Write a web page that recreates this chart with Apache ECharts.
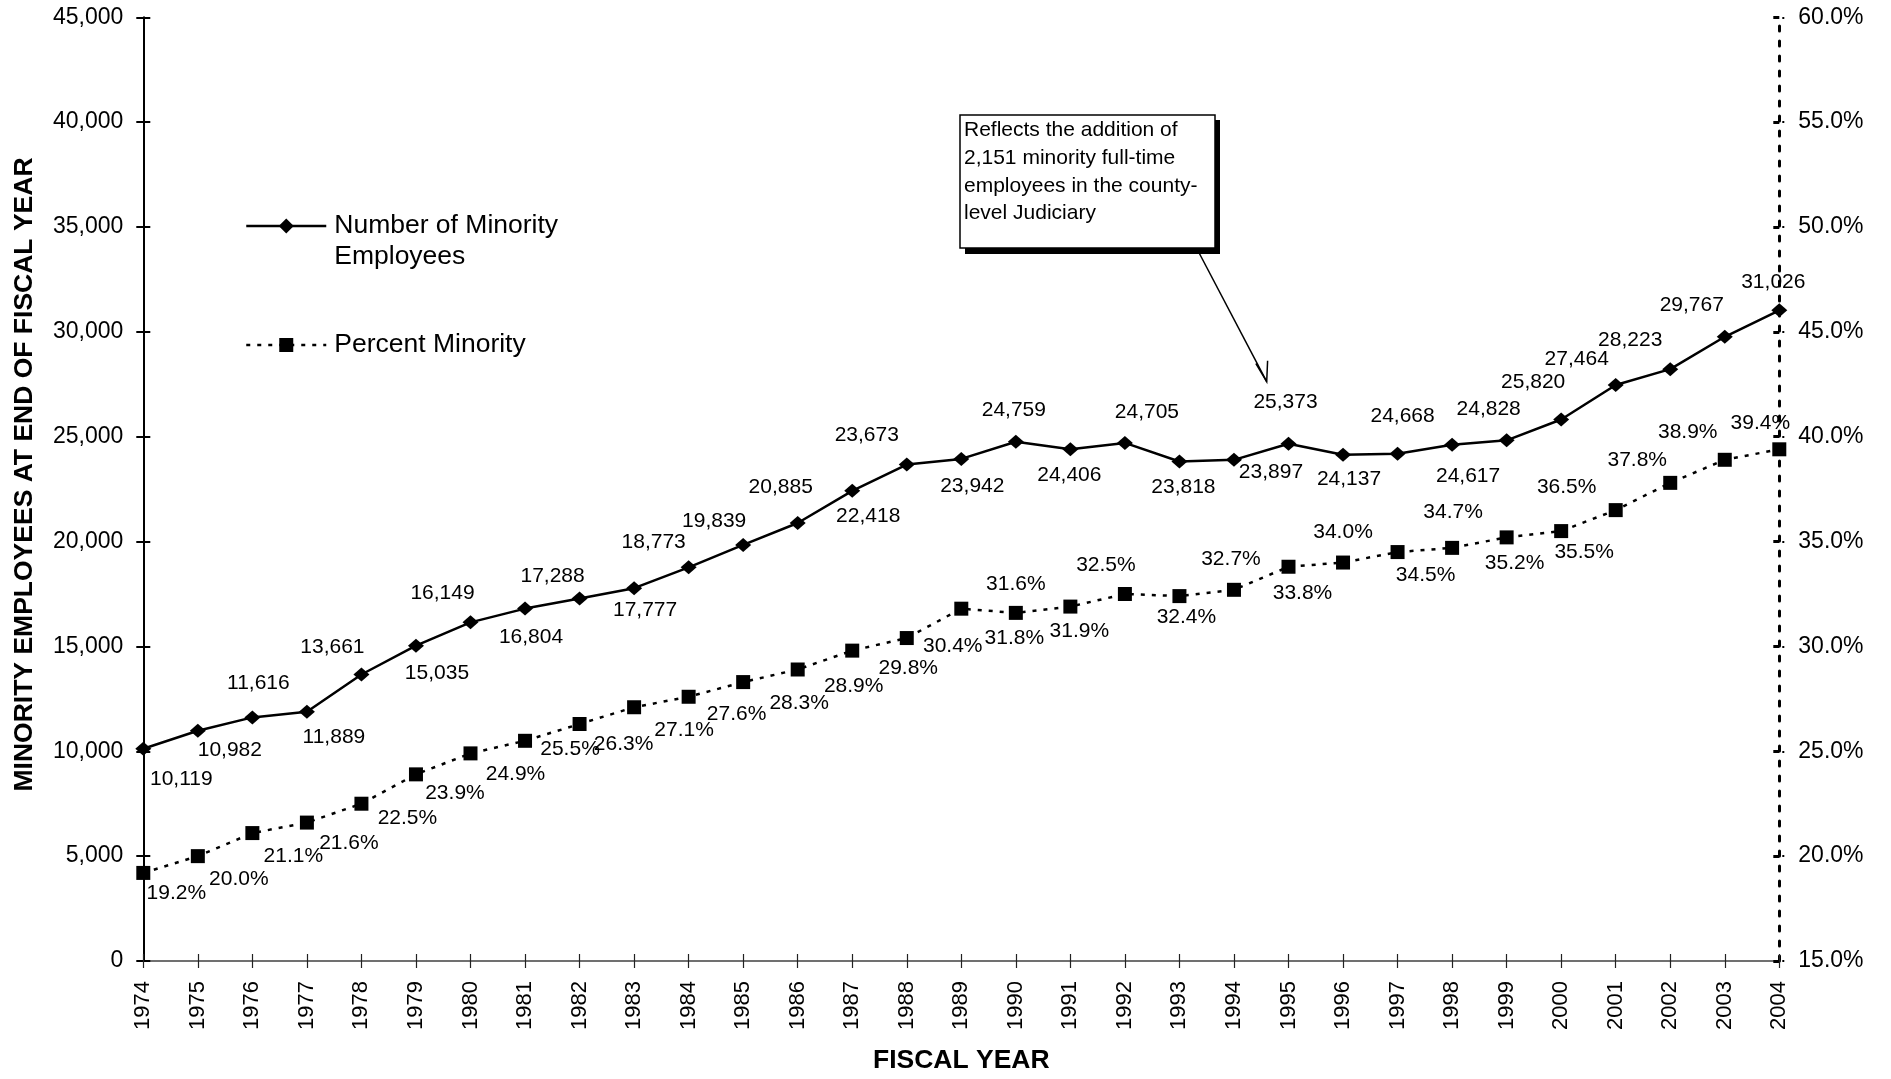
<!DOCTYPE html>
<html>
<head>
<meta charset="utf-8">
<script src="https://cdn.jsdelivr.net/npm/echarts@6/dist/echarts.min.js"></script>
<style>
html,body{margin:0;padding:0;background:#fff;}
#chart{width:1891px;height:1079px;}
</style>
</head>
<body>
<div id="chart"></div>
<script>
// ---------------- data ----------------
const years = ['1974','1975','1976','1977','1978','1979','1980','1981','1982','1983','1984','1985','1986','1987','1988','1989','1990','1991','1992','1993','1994','1995','1996','1997','1998','1999','2000','2001','2002','2003','2004'];

const employees = [10119,10982,11616,11889,13661,15035,16149,16804,17288,17777,18773,19839,20885,22418,23673,23942,24759,24406,24705,23818,23897,24668,24137,24190,24617,24828,25820,27464,28223,29767,31026];

const employeeLabels = ['10,119','10,982','11,616','11,889','13,661','15,035','16,149','16,804','17,288','17,777','18,773','19,839','20,885','22,418','23,673','23,942','24,759','24,406','24,705','23,818','23,897','25,373','24,137','24,668','24,617','24,828','25,820','27,464','28,223','29,767','31,026'];

const percentMinority = [19.2,20.0,21.1,21.6,22.5,23.9,24.9,25.5,26.3,27.1,27.6,28.3,28.9,29.8,30.4,31.8,31.6,31.9,32.5,32.4,32.7,33.8,34.0,34.5,34.7,35.2,35.5,36.5,37.8,38.9,39.4];

const leftAxisTicks = {min: 0, max: 45000, interval: 5000};
const rightAxisTicks = {min: 15, max: 60, interval: 5};

const seriesNames = ['Number of Minority Employees', 'Percent Minority'];
const legendTexts = ['Number of Minority\nEmployees', 'Percent Minority'];
const annotationText = 'Reflects the addition of\n2,151 minority full-time\nemployees in the county-\nlevel Judiciary';
const xAxisTitle = 'FISCAL YEAR';
const yAxisTitle = 'MINORITY EMPLOYEES AT END OF FISCAL YEAR';

// ---------------- label placement (layout only) ----------------
const employeeLabelOffsets = [[38,30],[32,20],[6,-34],[27,26],[-29,-27],[21,28],[-28,-29],[6,29],[-27,-22],[11,22],[-35,-25],[-29,-24],[-17,-36],[16,25],[-40,-29],[11,27],[-2,-32],[-1,26],[22,-31],[4,26],[37,12],[-3,-41],[6,24],[5,-38],[16,31],[-18,-31],[-28,-37],[-39,-26],[-40,-29],[-33,-32],[-6,-28]];
const percentLabelOffsets = [[33,20],[41,23],[41,23],[42,21],[46,14],[39,19],[45,21],[45,8],[44,20],[50,23],[48,17],[56,21],[56,17],[56,18],[46,8],[53,30],[0,-29],[9,25],[-19,-29],[7,21],[-3,-31],[14,26],[0,-30],[28,23],[1,-36],[8,26],[23,21],[-49,-23],[-33,-23],[-37,-28],[-19,-26]];

// ---------------- chart ----------------
const FONT = "'Liberation Sans', Arial, sans-serif";
const chart = echarts.init(document.getElementById('chart'), null, {renderer: 'canvas'});

const grid = {left: 143.3, right: 111.7, top: 17.3, bottom: 117.3, containLabel: false};

const option = {
  animation: false,
  backgroundColor: '#fff',
  textStyle: {fontFamily: FONT, color: '#000'},
  grid: grid,
  legend: [
    {
      data: [seriesNames[0]],
      left: 245, top: 179.5, padding: 0,
      itemWidth: 80, itemHeight: 18.75,
      selectedMode: false,
      // leading empty line keeps the first text line level with the icon
      formatter: () => '\n' + legendTexts[0],
      lineStyle: {width: 2.5},
      textStyle: {fontSize: 26.5, lineHeight: 31, color: '#000', fontFamily: FONT, padding: [0, 0, 0, 3]}
    },
    {
      data: [seriesNames[1]],
      left: 245, top: 329.5, padding: 0,
      itemWidth: 80, itemHeight: 17.5,
      selectedMode: false,
      formatter: () => legendTexts[1],
      lineStyle: {width: 2.5},
      textStyle: {fontSize: 26.5, lineHeight: 31, color: '#000', fontFamily: FONT, padding: [0, 0, 0, 3]}
    }
  ],
  xAxis: [
    {
      type: 'category', data: years, boundaryGap: false, position: 'bottom',
      name: xAxisTitle, nameLocation: 'middle', nameGap: 86,
      nameTextStyle: {fontSize: 26.5, fontWeight: 'bold', color: '#000', fontFamily: FONT},
      axisLine: {show: true, lineStyle: {color: '#707070', width: 2}},
      axisTick: {show: true, length: 7, lineStyle: {color: '#222', width: 1.2}},
      axisLabel: {rotate: 90, margin: 20, fontSize: 22, color: '#000', interval: 0, fontFamily: FONT},
      splitLine: {show: false}
    },
    {
      type: 'category', data: years, boundaryGap: false, position: 'bottom',
      axisLine: {show: false},
      axisTick: {show: true, inside: true, length: 7, lineStyle: {color: '#222', width: 1.2}},
      axisLabel: {show: false},
      splitLine: {show: false}
    }
  ],
  yAxis: [
    {
      type: 'value', position: 'left',
      min: leftAxisTicks.min, max: leftAxisTicks.max, interval: leftAxisTicks.interval,
      axisLine: {show: true, lineStyle: {color: '#000', width: 2}},
      axisTick: {show: true, length: 7, lineStyle: {color: '#000', width: 2}},
      axisLabel: {margin: 20, fontSize: 23, color: '#000', fontFamily: FONT,
        formatter: v => v.toLocaleString('en-US')},
      splitLine: {show: false}
    },
    {
      type: 'value', position: 'right',
      min: rightAxisTicks.min, max: rightAxisTicks.max, interval: rightAxisTicks.interval,
      axisLine: {show: true, lineStyle: {color: '#000', width: 3, type: [5, 10]}},
      axisTick: {show: true, length: 8, lineStyle: {color: '#000', width: 2, type: [2, 4], dashOffset: -3}},
      axisLabel: {margin: 19, fontSize: 23, color: '#000', fontFamily: FONT,
        formatter: v => v.toFixed(1) + '%'},
      splitLine: {show: false}
    },
    {
      type: 'value', position: 'left',
      min: leftAxisTicks.min, max: leftAxisTicks.max, interval: leftAxisTicks.interval,
      axisLine: {show: false},
      axisTick: {show: true, inside: true, length: 7, lineStyle: {color: '#000', width: 2}},
      axisLabel: {show: false},
      splitLine: {show: false}
    },
    {
      type: 'value', position: 'right',
      min: rightAxisTicks.min, max: rightAxisTicks.max, interval: rightAxisTicks.interval,
      axisLine: {show: false},
      axisTick: {show: true, inside: true, length: 9, lineStyle: {color: '#000', width: 3, type: [6, 4]}},
      axisLabel: {show: false},
      splitLine: {show: false}
    }
  ],
  series: [
    {
      name: seriesNames[0], type: 'line', xAxisIndex: 0, yAxisIndex: 0,
      data: employees.map((v, i) => ({value: v, label: {offset: employeeLabelOffsets[i]}})),
      symbol: 'diamond', symbolSize: [16, 14],
      lineStyle: {color: '#000', width: 2.5},
      itemStyle: {color: '#000'},
      label: {show: true, position: 'inside', color: '#000', fontSize: 21, fontFamily: FONT,
        formatter: p => employeeLabels[p.dataIndex]},
      emphasis: {disabled: true},
      z: 3
    },
    {
      name: seriesNames[1], type: 'line', xAxisIndex: 0, yAxisIndex: 1,
      data: percentMinority.map((v, i) => ({value: v, label: {offset: percentLabelOffsets[i]}})),
      symbol: 'rect', symbolSize: 14,
      lineStyle: {color: '#000', width: 2.5, type: [4, 7]},
      itemStyle: {color: '#000'},
      label: {show: true, position: 'inside', color: '#000', fontSize: 21, fontFamily: FONT,
        formatter: p => p.value.toFixed(1) + '%'},
      emphasis: {disabled: true},
      z: 3
    }
  ],
  graphic: [
    {
      type: 'text', x: 25, y: 474.5, rotation: Math.PI / 2,
      style: {text: yAxisTitle, fill: '#000', font: 'bold 26.5px ' + FONT, align: 'center', verticalAlign: 'middle'}
    },
    {
      type: 'line', z: 10,
      shape: {x1: 1196, y1: 247, x2: 1266.7, y2: 381.7},
      style: {stroke: '#000', lineWidth: 1.5}
    },
    {
      type: 'polyline', z: 10,
      shape: {points: [[1255.9, 363.5], [1266.7, 381.7], [1267.6, 360.7]]},
      style: {stroke: '#000', lineWidth: 1.5, fill: null}
    },
    {
      type: 'rect', z: 11,
      shape: {x: 965, y: 120, width: 255, height: 134},
      style: {fill: '#000'}
    },
    {
      type: 'rect', z: 12,
      shape: {x: 960, y: 115, width: 255, height: 133},
      style: {fill: '#fff', stroke: '#000', lineWidth: 1.5}
    },
    {
      type: 'text', z: 13, x: 964, y: 116.5,
      style: {text: annotationText, fill: '#000', font: '21px ' + FONT, lineHeight: 27.7, align: 'left', verticalAlign: 'top'}
    }
  ]
};

chart.setOption(option);
</script>
</body>
</html>
